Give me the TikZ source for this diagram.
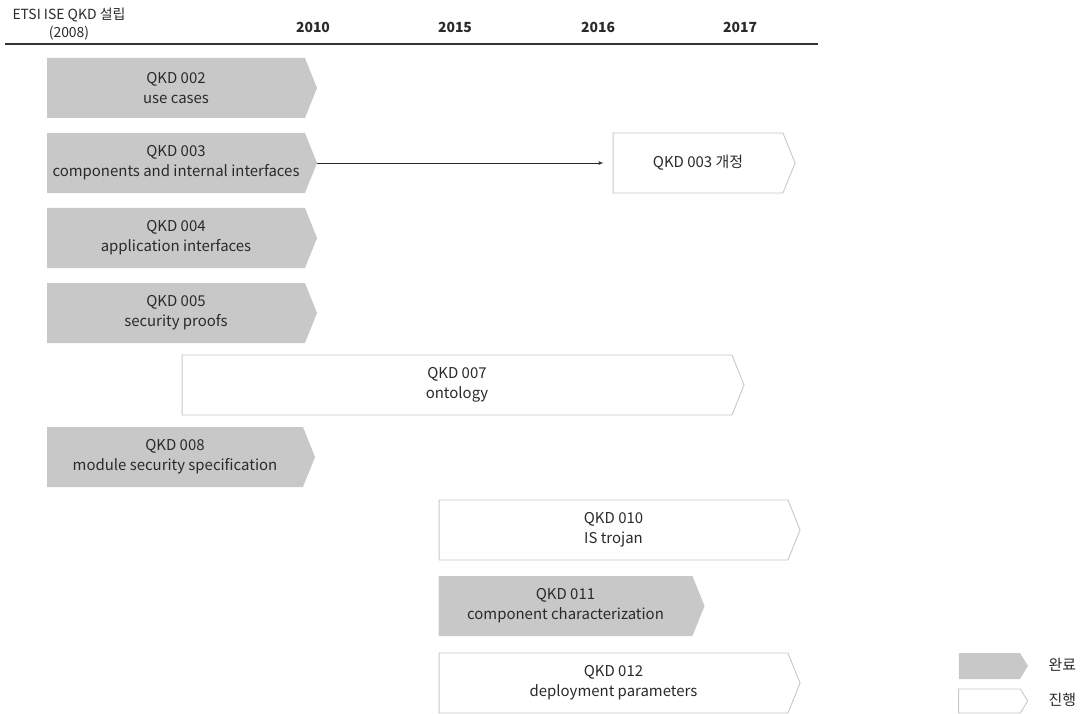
\documentclass[tikz,border=0pt]{standalone}
\usepackage{fontspec}
\setmainfont{Noto Sans CJK KR}
\usetikzlibrary{shapes.symbols,arrows}
\definecolor{donegray}{HTML}{C8C8C8}
\definecolor{txtgray}{HTML}{2A2A2A}
\begin{document}
\begin{tikzpicture}[x=1bp,y=-1bp,font=\fontsize{15}{20}\selectfont,text=txtgray]
  \tikzstyle{phase}=[signal,signal to=east,signal pointer angle=136,inner sep=0pt,align=center,minimum height=60bp]
  \tikzstyle{done}=[phase,fill=donegray]
  \tikzstyle{wip}=[phase,draw=donegray,fill=white,line width=0.9bp]
  \tikzstyle{year}=[font=\fontsize{14}{18}\selectfont\bfseries]
  \useasboundingbox (0,0) rectangle (1082,714);
  % headers
  \node[align=center,font=\fontsize{14}{18}\selectfont] (start) at (69,24) {ETSI ISE QKD 설립\\(2008)};
  \node[year] (y2010) at (313,27) {2010};
  \node[year] (y2015) at (455,27) {2015};
  \node[year] (y2016) at (598,27) {2016};
  \node[year] (y2017) at (740,27) {2017};
  % axis
  \coordinate (axisstart) at (5,44);
  \coordinate (axisend) at (818,44);
  \draw[line width=1.4bp,black!80] (axisstart) -- (axisend);
  % work items
  \node[done,minimum width=270bp] (qkd002) at (176,88) {QKD 002\\use cases};
  \node[done,minimum width=270bp] (qkd003) at (176,163) {QKD 003\\components and internal interfaces};
  \node[done,minimum width=270bp] (qkd004) at (176,238) {QKD 004\\application interfaces};
  \node[done,minimum width=270bp] (qkd005) at (176,313) {QKD 005\\security proofs};
  \node[wip,minimum width=562bp] (qkd007) at (457,385) {QKD 007\\ontology};
  \node[done,minimum width=268bp] (qkd008) at (175,457) {QKD 008\\module security specification};
  \node[wip,minimum width=361bp] (qkd010) at (613.5,530) {QKD 010\\IS trojan};
  \node[done,minimum width=266bp] (qkd011) at (565.5,606) {QKD 011\\component characterization};
  \node[wip,minimum width=361bp] (qkd012) at (613.5,683) {QKD 012\\deployment parameters};
  \node[wip,minimum width=182bp] (qkd003rev) at (698,163) {QKD 003 개정};
  \draw[-latex',black!85,line width=0.8bp,shorten >=9bp] (qkd003.east) -- (qkd003rev.west);
  % legend
  \node[done,minimum width=69bp,minimum height=26bp,signal pointer angle=117] (legdone) at (989.5,666) {};
  \node[wip,minimum width=69bp,minimum height=24bp,signal pointer angle=117] (legwip) at (989.5,701) {};
  \node[anchor=west] (legdonetxt) at (1045,665) {완료};
  \node[anchor=west] (legwiptxt) at (1045,700) {진행};
\end{tikzpicture}
\end{document}
